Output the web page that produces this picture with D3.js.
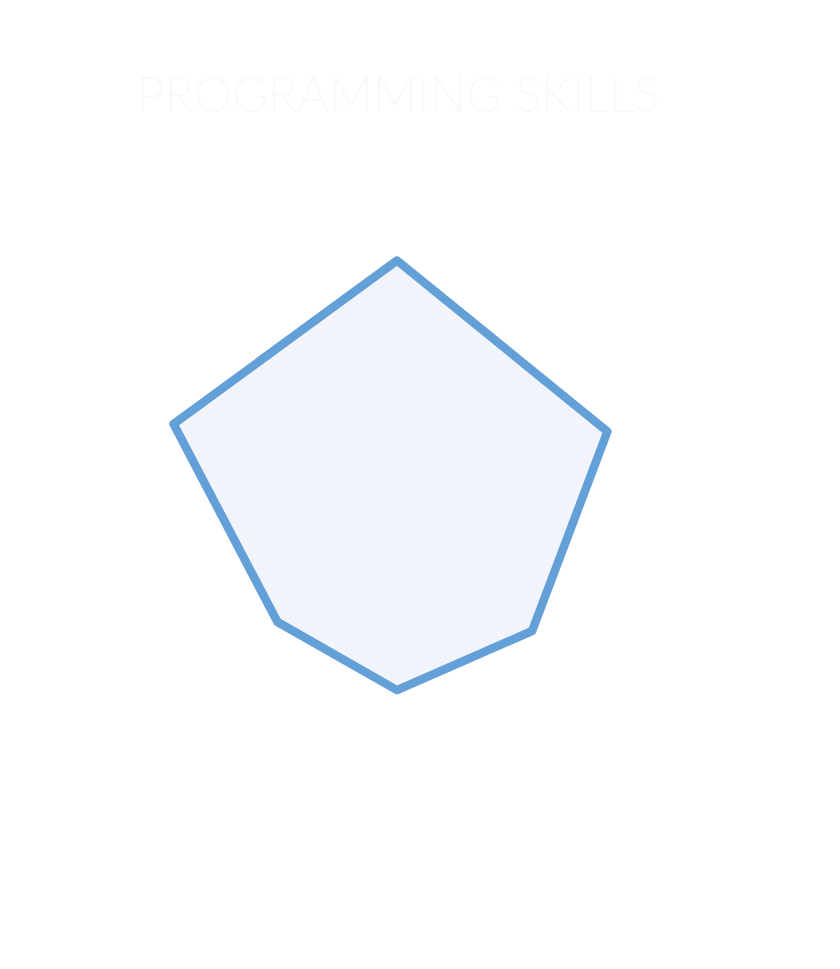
<!DOCTYPE html>
<html>
<head>
<meta charset="utf-8">
<script src="https://cdn.jsdelivr.net/npm/d3@7"></script>
<style>
  html, body { margin: 0; padding: 0; background: #ffffff; }
  svg { display: block; }
</style>
</head>
<body>
<div id="chart"></div>
<script>
const title = "PROGRAMMING SKILLS";
const categories = ["Skill 1", "Skill 2", "Skill 3", "Skill 4", "Skill 5", "Skill 6"];
const values = [97.5, 81, 52, 45.7, 46, 86];
const maxValue = 100;

const width = 840, height = 969;
const cx = 397, cy = 553, radius = 300;

const svg = d3.select("#chart").append("svg")
  .attr("width", width).attr("height", height);

svg.append("text")
  .attr("x", 398).attr("y", 112)
  .attr("text-anchor", "middle")
  .attr("font-family", "Lato, 'Open Sans', sans-serif")
  .attr("font-weight", 300)
  .attr("font-size", 48.5)
  .attr("fill", "#f8f9fb")
  .text(title);

const r = d3.scaleLinear().domain([0, maxValue]).range([0, radius]);
const angle = d3.scalePoint().domain(categories.concat(["_end"])).range([0, 2 * Math.PI]);

const line = d3.lineRadial()
  .angle((d, i) => angle(categories[i]))
  .radius(d => r(d))
  .curve(d3.curveLinearClosed);

const g = svg.append("g").attr("transform", `translate(${cx},${cy})`);

g.append("path")
  .datum(values)
  .attr("d", line)
  .attr("fill", "#f1f5fb")
  .attr("stroke", "#5b9bd5")
  .attr("stroke-opacity", 0.95)
  .attr("stroke-width", 8.5)
  .attr("stroke-linejoin", "round");
</script>
</body>
</html>
